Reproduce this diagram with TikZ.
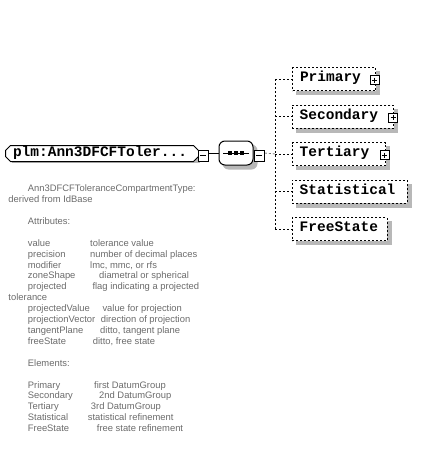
\documentclass[tikz,border=0pt]{standalone}
\usepackage{fontspec}
\usepackage{xcolor}
\usetikzlibrary{calc, positioning, shapes.misc}
\pgfdeclarelayer{bg}
\pgfsetlayers{bg,main}
\newfontfamily\descfont{Liberation Sans}
\newfontfamily\elemfont[HyphenChar=None]{Liberation Mono}
\definecolor{desctext}{gray}{0.42}
\definecolor{shadowgray}{gray}{0.72}
\tikzset{
  elemfont/.style={font=\elemfont\bfseries\fontsize{14.5pt}{16pt}\selectfont, text height=8pt, text depth=2.5pt},
  mainbox/.style={chamfered rectangle, chamfered rectangle xsep=2.5pt, chamfered rectangle ysep=2.5pt, draw, fill=white, elemfont, minimum height=16pt, text width=178pt, inner xsep=5pt, inner ysep=0pt, align=left, anchor=west},
  elembox/.style={rectangle, draw, dash pattern=on 2pt off 2pt, fill=white, elemfont, minimum height=23pt, text width=#1, inner xsep=7.5pt, align=left, anchor=west},
  seqbox/.style={rectangle, draw, rounded corners=6pt, fill=white, minimum width=34pt, minimum height=24pt, inner sep=0pt},
  minusbox/.style={rectangle, draw, fill=white, minimum width=10pt, minimum height=11pt, inner sep=0pt,
    path picture={\draw ([xshift=2pt]path picture bounding box.west) -- ([xshift=-2pt]path picture bounding box.east);}},
  plusbox/.style={rectangle, draw, fill=white, minimum size=9pt, inner sep=0pt,
    path picture={\draw ([xshift=2pt]path picture bounding box.west) -- ([xshift=-2pt]path picture bounding box.east);
                  \draw ([yshift=-2pt]path picture bounding box.north) -- ([yshift=2pt]path picture bounding box.south);}},
  dashline/.style={dash pattern=on 2pt off 2pt},
  desc/.style={anchor=base west, inner sep=0pt, text=desctext, font=\descfont\fontsize{9.4pt}{11pt}\selectfont}
}
\begin{document}
\begin{tikzpicture}
  [x=1pt, y=-1pt, line width=1pt]
  \useasboundingbox (0,0) rectangle (427,450);

  % nodes %
  \node[mainbox] (main) at (5,153.5) {plm:Ann3DFCFToler...};
  \node[minusbox] (mainminus) at (203.3,155.5) {};
  \node[seqbox] (seq) at (236,153) {};
  \node[minusbox] (seqminus) at (259.3,155.5) {};
  \coordinate (fork) at (275,154);

  \node[elembox=68pt] (prim) at (292,79) {Primary};
  \node[elembox=86.6pt] (sec) at (291.7,116.5) {Secondary};
  \node[elembox=78.3pt] (tert) at (291.7,154) {Tertiary};
  \node[elembox=100pt] (stat) at (291.7,191.5) {Statistical};
  \node[elembox=80pt] (free) at (291.7,229) {FreeState};

  \node[plusbox] (primplus) at ([shift={(-1.3,1)}]prim.east) {};
  \node[plusbox] (secplus) at ([shift={(-1.3,1)}]sec.east) {};
  \node[plusbox] (tertplus) at ([shift={(-1.3,1)}]tert.east) {};

  % shadows %
  \begin{pgfonlayer}{bg}
    \fill[shadowgray] ($(main.south west)+(4,4)$) rectangle ($(main.north east)+(4,4)$);
    \fill[shadowgray, rounded corners=6pt] ($(seq.south west)+(4,4)$) rectangle ($(seq.north east)+(4,4)$);
    \foreach \n in {prim, sec, tert, stat, free}
      \fill[shadowgray] ($(\n.south west)+(4,4)$) rectangle ($(\n.north east)+(4,4)$);
  \end{pgfonlayer}

  % sequence symbol %
  \draw ([xshift=-13pt]seq.center) -- ([xshift=13pt]seq.center);
  \foreach \d in {-6,0,6}
    \fill ([shift={(\d-1.6,-1.6)}]seq.center) rectangle +(3.2,3.2);

  % edges %
  \draw (mainminus.east |- seq.west) -- (seq.west);
  \draw[dashline] (seqminus.east |- seq.east) -- (fork);
  \draw[dashline] (fork |- prim.west) -- (fork |- free.west);
  \foreach \n in {prim, sec, tert, stat, free}
    \draw[dashline] (fork |- \n.west) -- (\n.west);

  % annotation %
  \foreach \x/\i/\t [count=\k] in {27.7/0/Ann3DFCFToleranceCompartmentType:, 8.3/1/derived from IdBase,
      27.7/3/Attributes:, 8.3/10/tolerance, 27.7/16/Elements:}
    \node[desc] (note\k) at (\x,191.7+10.91*\i) {\t};
  \foreach \i/\a/\b/\bx [count=\k] in {
      5/value/tolerance value/90,
      6/precision/number of decimal places/90,
      7/modifier/{lmc, mmc, or rfs}/90,
      8/zoneShape/diametral or spherical/99,
      9/projected/flag indicating a projected/92.3,
      11/projectedValue/value for projection/102.3,
      12/projectionVector/direction of projection/100.7,
      13/tangentPlane/{ditto, tangent plane}/100,
      14/freeState/{ditto, free state}/92.7,
      18/Primary/first DatumGroup/94,
      19/Secondary/2nd DatumGroup/99,
      20/Tertiary/3rd DatumGroup/90.7,
      21/Statistical/statistical refinement/87.7,
      22/FreeState/free state refinement/96.7} {
    \node[desc] (key\k) at (27.7,191.7+10.91*\i) {\a};
    \node[desc] (val\k) at (\bx,191.7+10.91*\i) {\b};
  }
\end{tikzpicture}
\end{document}
